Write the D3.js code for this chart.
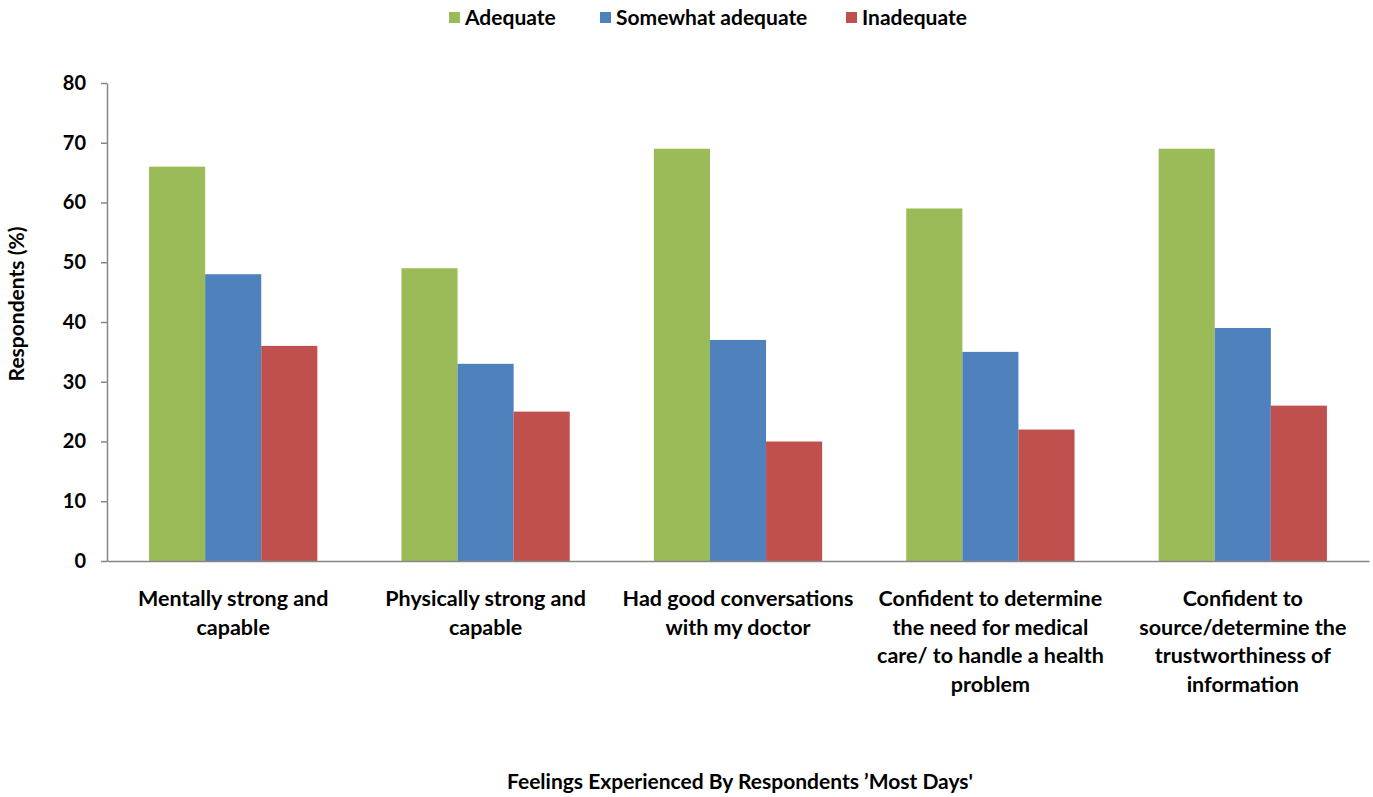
<!DOCTYPE html>
<html>
<head>
<meta charset="utf-8">
<script src="https://cdn.jsdelivr.net/npm/d3@7"></script>
<style>
  html, body { margin: 0; padding: 0; background: #fff; }
  svg { display: block; }
  text { font-family: Lato, "Open Sans", sans-serif; font-weight: bold; fill: #000; }
</style>
</head>
<body>
<svg id="chart" width="1373" height="797"></svg>
<script>
// Category labels, line breaks as printed under the axis
const categories = [
  "Mentally strong and\ncapable",
  "Physically strong and\ncapable",
  "Had good conversations\nwith my doctor",
  "Confident to determine\nthe need for medical\ncare/ to handle a health\nproblem",
  "Confident to\nsource/determine the\ntrustworthiness of\ninformation"
];
const seriesNames = ["Adequate", "Somewhat adequate", "Inadequate"];
const adequate = [66, 49, 69, 59, 69];
const somewhatAdequate = [48, 33, 37, 35, 39];
const inadequate = [36, 25, 20, 22, 26];
const seriesColors = ["#9BBB59", "#4F81BD", "#C0504D"];
const yTicks = [0, 10, 20, 30, 40, 50, 60, 70, 80];
const xTitle = "Feelings Experienced By Respondents \u2019Most Days'";
const yTitle = "Respondents (%)";

const seriesValues = [adequate, somewhatAdequate, inadequate];

const svg = d3.select("#chart");
const W = 1373, H = 797;
const margin = { left: 107, right: 4, top: 83 };
const plotBottom = 561;

const x0 = d3.scaleBand()
  .domain(d3.range(categories.length))
  .range([margin.left, W - margin.right])
  .paddingInner(1 / 3)
  .paddingOuter(1 / 6);

const x1 = d3.scaleBand()
  .domain(d3.range(seriesNames.length))
  .range([0, x0.bandwidth()]);

const y = d3.scaleLinear().domain([0, 80]).range([plotBottom, margin.top]);

// Bars
const groups = svg.append("g").selectAll("g")
  .data(categories)
  .join("g")
  .attr("transform", (d, i) => `translate(${x0(i)},0)`);

groups.selectAll("rect")
  .data((d, i) => seriesValues.map((vals, s) => ({ s, v: vals[i] })))
  .join("rect")
  .attr("x", d => x1(d.s))
  .attr("y", d => y(d.v))
  .attr("width", x1.bandwidth())
  .attr("height", d => y(0) - y(d.v))
  .attr("fill", d => seriesColors[d.s]);

// Y axis
const yAxis = svg.append("g")
  .attr("transform", `translate(${margin.left},0)`)
  .call(d3.axisLeft(y).tickValues(yTicks).tickSize(6).tickPadding(15).tickSizeOuter(0));
yAxis.select(".domain").attr("stroke", "#868686").attr("stroke-width", 1.5);
yAxis.selectAll(".tick line").attr("stroke", "#868686").attr("stroke-width", 1.5);
yAxis.selectAll(".tick text")
  .attr("font-size", 20).attr("font-family", "Lato, sans-serif").attr("font-weight", "bold").attr("fill", "#000");

// X axis baseline
const xAxis = svg.append("g")
  .attr("transform", `translate(0,${plotBottom})`)
  .call(d3.axisBottom(d3.scaleLinear().domain([0, 1]).range([margin.left, W - margin.right]))
    .ticks(0).tickSizeOuter(0));
xAxis.select(".domain").attr("stroke", "#868686").attr("stroke-width", 1.5);

// Category labels
const catLabels = svg.append("g").selectAll("text")
  .data(categories)
  .join("text")
  .attr("text-anchor", "middle")
  .attr("font-size", 21.5)
  .attr("x", (d, i) => x0(i) + x0.bandwidth() / 2)
  .attr("y", 606);
catLabels.each(function (d) {
  const t = d3.select(this);
  d.split("\n").forEach((line, k) => {
    t.append("tspan")
      .attr("x", t.attr("x"))
      .attr("dy", k === 0 ? 0 : 28.7)
      .text(line);
  });
});

// Axis titles
svg.append("text")
  .attr("x", 740)
  .attr("y", 789)
  .attr("text-anchor", "middle")
  .attr("font-size", 21)
  .text(xTitle);

svg.append("text")
  .attr("transform", `translate(24,304) rotate(-90)`)
  .attr("text-anchor", "middle")
  .attr("font-size", 21)
  .text(yTitle);

// Legend
const legendX = [449, 600, 846];
const legend = svg.append("g").selectAll("g")
  .data(seriesNames)
  .join("g")
  .attr("transform", (d, i) => `translate(${legendX[i]},18)`);
legend.append("rect")
  .attr("x", 0).attr("y", -6).attr("width", 11).attr("height", 11)
  .attr("fill", (d, i) => seriesColors[i]);
legend.append("text")
  .attr("x", 16).attr("y", 7)
  .attr("font-size", 21)
  .text(d => d);
</script>
</body>
</html>
